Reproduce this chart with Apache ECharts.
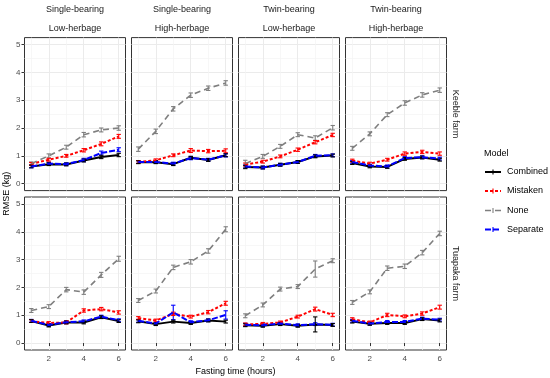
<!DOCTYPE html>
<html><head><meta charset="utf-8">
<script src="https://cdn.jsdelivr.net/npm/echarts@6/dist/echarts.min.js"></script>
<style>html,body{margin:0;padding:0;background:#fff}#c{width:550px;height:378px}</style>
</head><body><div id="c"></div>
<script>
const hours = [1, 2, 3, 4, 5, 6];
const models = ['Combined', 'Mistaken', 'None', 'Separate'];
const eweTypes = ['Single-bearing', 'Single-bearing', 'Twin-bearing', 'Twin-bearing'];
const herbageTypes = ['Low-herbage', 'High-herbage', 'Low-herbage', 'High-herbage'];
const farms = ['Keeble farm', 'Tuapaka farm'];
const yTicks = [0, 1, 2, 3, 4, 5];
const yMinor = [0.5, 1.5, 2.5, 3.5, 4.5];
const xTicks = [2, 4, 6];
const xMinor = [1, 3, 5];

// panel order: Keeble farm (4 columns), then Tuapaka farm (4 columns)
const combined = [
  [0.62, 0.70, 0.69, 0.83, 0.96, 1.03],
  [0.77, 0.77, 0.70, 0.93, 0.85, 1.02],
  [0.60, 0.58, 0.68, 0.78, 0.98, 1.01],
  [0.74, 0.62, 0.60, 0.89, 0.94, 0.86],
  [0.79, 0.63, 0.74, 0.74, 0.93, 0.79],
  [0.78, 0.68, 0.77, 0.72, 0.81, 0.77],
  [0.64, 0.62, 0.68, 0.62, 0.67, 0.65],
  [0.77, 0.69, 0.72, 0.72, 0.86, 0.81]
];
const mistaken = [
  [0.71, 0.86, 1.00, 1.20, 1.43, 1.70],
  [0.78, 0.84, 1.02, 1.19, 1.17, 1.18],
  [0.69, 0.79, 0.98, 1.22, 1.49, 1.75],
  [0.83, 0.72, 0.86, 1.08, 1.14, 1.08],
  [0.79, 0.72, 0.74, 1.17, 1.22, 1.10],
  [0.90, 0.81, 1.05, 0.95, 1.11, 1.43],
  [0.67, 0.69, 0.74, 0.95, 1.22, 1.01],
  [0.86, 0.74, 1.01, 0.96, 1.06, 1.29]
];
const none = [
  [0.72, 1.00, 1.31, 1.76, 1.93, 2.00],
  [1.24, 1.88, 2.69, 3.18, 3.43, 3.62],
  [0.72, 0.98, 1.34, 1.76, 1.64, 2.01],
  [1.27, 1.79, 2.48, 2.90, 3.19, 3.36],
  [1.17, 1.31, 1.92, 1.83, 2.45, 3.03],
  [1.53, 1.87, 2.72, 2.92, 3.31, 4.09],
  [0.98, 1.37, 1.94, 2.03, 2.66, 2.96],
  [1.46, 1.84, 2.69, 2.76, 3.25, 3.94]
];
const separate = [
  [0.62, 0.72, 0.70, 0.85, 1.10, 1.22],
  [0.78, 0.78, 0.72, 0.92, 0.86, 1.02],
  [0.62, 0.58, 0.68, 0.78, 1.00, 1.02],
  [0.78, 0.65, 0.62, 0.92, 0.95, 0.90],
  [0.80, 0.65, 0.75, 0.78, 0.95, 0.82],
  [0.80, 0.70, 1.10, 0.75, 0.82, 1.01],
  [0.66, 0.64, 0.70, 0.64, 0.68, 0.66],
  [0.80, 0.70, 0.76, 0.76, 0.88, 0.84]
];
// error bar half-widths
const combinedErr = [
  [0.05, 0.05, 0.05, 0.05, 0.06, 0.06],
  [0.05, 0.05, 0.05, 0.05, 0.05, 0.05],
  [0.06, 0.05, 0.05, 0.05, 0.05, 0.05],
  [0.05, 0.05, 0.05, 0.05, 0.05, 0.05],
  [0.05, 0.05, 0.05, 0.05, 0.05, 0.05],
  [0.05, 0.05, 0.05, 0.05, 0.05, 0.05],
  [0.05, 0.05, 0.05, 0.05, 0.27, 0.05],
  [0.05, 0.05, 0.05, 0.05, 0.05, 0.05]
];
const mistakenErr = [
  [0.05, 0.05, 0.05, 0.06, 0.07, 0.07],
  [0.05, 0.05, 0.05, 0.07, 0.06, 0.07],
  [0.05, 0.05, 0.05, 0.06, 0.06, 0.06],
  [0.05, 0.05, 0.05, 0.06, 0.06, 0.06],
  [0.05, 0.05, 0.05, 0.06, 0.06, 0.06],
  [0.05, 0.05, 0.06, 0.05, 0.06, 0.07],
  [0.05, 0.05, 0.05, 0.05, 0.07, 0.06],
  [0.05, 0.05, 0.06, 0.05, 0.06, 0.07]
];
const noneErr = [
  [0.06, 0.07, 0.07, 0.08, 0.07, 0.08],
  [0.08, 0.08, 0.08, 0.08, 0.08, 0.08],
  [0.12, 0.07, 0.07, 0.07, 0.08, 0.08],
  [0.07, 0.07, 0.07, 0.08, 0.08, 0.08],
  [0.07, 0.07, 0.08, 0.08, 0.09, 0.09],
  [0.07, 0.07, 0.08, 0.08, 0.08, 0.09],
  [0.07, 0.07, 0.07, 0.07, 0.29, 0.07],
  [0.07, 0.07, 0.08, 0.08, 0.08, 0.08]
];
const separateErr = [
  [0.05, 0.05, 0.05, 0.06, 0.07, 0.07],
  [0.05, 0.05, 0.05, 0.06, 0.05, 0.06],
  [0.05, 0.05, 0.05, 0.05, 0.05, 0.05],
  [0.05, 0.05, 0.05, 0.05, 0.05, 0.05],
  [0.05, 0.05, 0.05, 0.05, 0.05, 0.05],
  [0.05, 0.05, 0.26, 0.05, 0.05, 0.15],
  [0.05, 0.05, 0.05, 0.05, 0.05, 0.05],
  [0.05, 0.05, 0.05, 0.05, 0.05, 0.05]
];

const modelValues = [combined, mistaken, none, separate];
const modelErrs = [combinedErr, mistakenErr, noneErr, separateErr];
const modelStyles = [
  { color: '#000000', width: 2, type: 'solid' },
  { color: '#FF0000', width: 2, type: [3, 2] },
  { color: '#7F7F7F', width: 1.6, type: [6, 4] },
  { color: '#0000FF', width: 2, type: [6, 2] }
];
const errOrder = [3, 2, 1, 0];

const FONT = 'Liberation Sans, Arial, sans-serif';
const panelLefts = [24.5, 131.5, 238.5, 345.5];
const panelTops = [37.6, 197];
const panelW = 101, panelH = 153;
const xMin = 0.6125, xMax = 6.3875, yMin = -0.25, yMax = 5.25;

const grids = [], xAxes = [], yAxes = [], series = [];
for (let i = 0; i < 8; i++) {
  const row = Math.floor(i / 4), col = i % 4;
  grids.push({ left: panelLefts[col], top: panelTops[row], width: panelW, height: panelH,
    show: true, borderColor: '#333333', borderWidth: 1, backgroundColor: '#ffffff', containLabel: false });
  xAxes.push({ type: 'value', gridIndex: i, min: xMin, max: xMax,
    axisLine: { show: false },
    axisTick: { show: row === 1, length: 3, customValues: xTicks, lineStyle: { color: '#333333' } },
    axisLabel: { show: row === 1, customValues: xTicks, fontSize: 8, color: '#4D4D4D', margin: 5, fontFamily: FONT },
    splitLine: { show: true, lineStyle: { color: '#EBEBEB', width: 1 } } });
  xAxes.push({ type: 'value', gridIndex: i, min: xMin, max: xMax,
    axisLine: { show: false },
    axisTick: { show: false, customValues: xMinor },
    axisLabel: { show: false, customValues: xMinor },
    splitLine: { show: true, lineStyle: { color: '#F3F3F3', width: 0.7 } } });
  yAxes.push({ type: 'value', gridIndex: i, min: yMin, max: yMax,
    axisLine: { show: false },
    axisTick: { show: col === 0, length: 3, customValues: yTicks, lineStyle: { color: '#333333' } },
    axisLabel: { show: col === 0, customValues: yTicks, fontSize: 8, color: '#4D4D4D', margin: 4, fontFamily: FONT },
    splitLine: { show: true, lineStyle: { color: '#EBEBEB', width: 1 } } });
  yAxes.push({ type: 'value', gridIndex: i, min: yMin, max: yMax,
    axisLine: { show: false },
    axisTick: { show: false, customValues: yMinor },
    axisLabel: { show: false, customValues: yMinor },
    splitLine: { show: true, lineStyle: { color: '#F3F3F3', width: 0.7 } } });

  for (let m = 0; m < 4; m++) {
    const st = modelStyles[m];
    series.push({ type: 'line', name: models[m], xAxisIndex: 2 * i, yAxisIndex: 2 * i,
      data: hours.map((h, k) => [h, modelValues[m][i][k]]),
      symbol: 'none', silent: true, animation: false,
      lineStyle: { color: st.color, width: st.width, type: st.type } });
  }
  for (const m of errOrder) {
    const st = modelStyles[m];
    series.push({ type: 'custom', name: models[m] + ' err', xAxisIndex: 2 * i, yAxisIndex: 2 * i,
      animation: false, silent: true,
      encode: { x: 0, y: [1, 2, 3] },
      data: hours.map((h, k) => [h, modelValues[m][i][k], modelValues[m][i][k] - modelErrs[m][i][k], modelValues[m][i][k] + modelErrs[m][i][k]]),
      renderItem: function (params, api) {
        const x = api.value(0);
        const pLo = api.coord([x, api.value(2)]);
        const pHi = api.coord([x, api.value(3)]);
        const w = api.size([0.25, 0])[0] / 2;
        const s = { stroke: st.color, lineWidth: 1.1 };
        return { type: 'group', children: [
          { type: 'line', shape: { x1: pLo[0], y1: pLo[1], x2: pHi[0], y2: pHi[1] }, style: s },
          { type: 'line', shape: { x1: pLo[0] - w, y1: pLo[1], x2: pLo[0] + w, y2: pLo[1] }, style: s },
          { type: 'line', shape: { x1: pHi[0] - w, y1: pHi[1], x2: pHi[0] + w, y2: pHi[1] }, style: s }
        ] };
      } });
  }
}

const graphics = [];
for (let c = 0; c < 4; c++) {
  const cx = panelLefts[c] + panelW / 2;
  graphics.push({ type: 'text', x: cx, y: 10, style: { text: eweTypes[c], font: '9px ' + FONT, fill: '#1A1A1A', textAlign: 'center', textVerticalAlign: 'middle' } });
  graphics.push({ type: 'text', x: cx, y: 29, style: { text: herbageTypes[c], font: '9px ' + FONT, fill: '#1A1A1A', textAlign: 'center', textVerticalAlign: 'middle' } });
}
for (let r = 0; r < 2; r++) {
  graphics.push({ type: 'text', x: 455, y: panelTops[r] + panelH / 2, rotation: -Math.PI / 2,
    style: { text: farms[r], font: '9px ' + FONT, fill: '#1A1A1A', textAlign: 'center', textVerticalAlign: 'middle' } });
}
graphics.push({ type: 'text', x: 7, y: (panelTops[0] + panelTops[1] + panelH) / 2, rotation: Math.PI / 2,
  style: { text: 'RMSE (kg)', font: '9px ' + FONT, fill: '#000000', textAlign: 'center', textVerticalAlign: 'middle' } });
graphics.push({ type: 'text', x: (panelLefts[0] + panelLefts[3] + panelW) / 2, y: 372,
  style: { text: 'Fasting time (hours)', font: '9px ' + FONT, fill: '#000000', textAlign: 'center', textVerticalAlign: 'middle' } });
// legend
graphics.push({ type: 'text', x: 484, y: 154, style: { text: 'Model', font: '9px ' + FONT, fill: '#000000', textAlign: 'left', textVerticalAlign: 'middle' } });
const legendY = [172, 191, 210.5, 229.5];
for (let m = 0; m < 4; m++) {
  const st = modelStyles[m];
  const y = legendY[m];
  graphics.push({ type: 'line', shape: { x1: 485, y1: y, x2: 501, y2: y },
    style: { stroke: st.color, lineWidth: st.width, lineDash: st.type === 'solid' ? null : st.type } });
  graphics.push({ type: 'line', shape: { x1: 493, y1: y - 2.5, x2: 493, y2: y + 2.5 }, style: { stroke: st.color, lineWidth: 1.1 } });
  graphics.push({ type: 'text', x: 507, y: y, style: { text: models[m], font: '9px ' + FONT, fill: '#000000', textAlign: 'left', textVerticalAlign: 'middle' } });
}

const chart = echarts.init(document.getElementById('c'), null, { renderer: 'canvas' });
chart.setOption({
  animation: false,
  backgroundColor: '#ffffff',
  grid: grids,
  xAxis: xAxes,
  yAxis: yAxes,
  series: series,
  graphic: graphics
});
</script>
</body></html>
